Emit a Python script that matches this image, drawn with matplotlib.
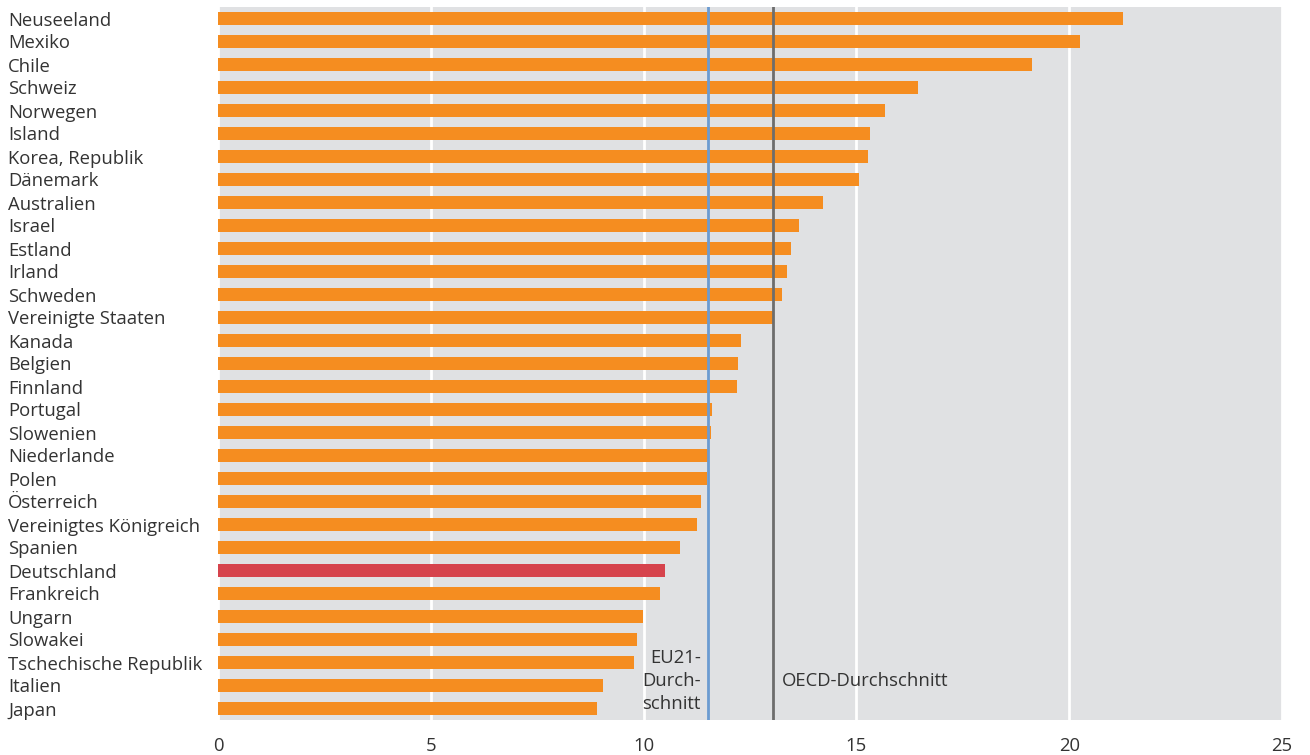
import matplotlib
matplotlib.use('Agg')
import matplotlib.pyplot as plt

plt.rcParams['font.family'] = ['Open Sans', 'DejaVu Sans']

countries = ['Neuseeland', 'Mexiko', 'Chile', 'Schweiz', 'Norwegen', 'Island',
             'Korea, Republik', 'Dänemark', 'Australien', 'Israel', 'Estland',
             'Irland', 'Schweden', 'Vereinigte Staaten', 'Kanada', 'Belgien',
             'Finnland', 'Portugal', 'Slowenien', 'Niederlande', 'Polen',
             'Österreich', 'Vereinigtes Königreich', 'Spanien', 'Deutschland',
             'Frankreich', 'Ungarn', 'Slowakei', 'Tschechische Republik',
             'Italien', 'Japan']
values = [21.26, 20.25, 19.13, 16.45, 15.67, 15.32, 15.27, 15.06, 14.22, 13.65,
          13.46, 13.37, 13.25, 13.06, 12.29, 12.22, 12.19, 11.61, 11.58, 11.54,
          11.49, 11.35, 11.25, 10.86, 10.50, 10.39, 9.99, 9.85, 9.77, 9.05, 8.91]
eu21_avg = 11.51
oecd_avg = 13.04
highlight = 'Deutschland'
xticks = [0, 5, 10, 15, 20, 25]

ORANGE = '#f58d20'
RED = '#d6434c'
TEXT = '#333333'
FS = 13.3

fig = plt.figure(figsize=(13.1, 7.55), dpi=100)
ax = fig.add_axes([218 / 1310, 35 / 755, 1064 / 1310, 713 / 755])
ax.set_facecolor('#e0e1e3')

ypos = list(range(len(countries)))
colors = [RED if c == highlight else ORANGE for c in countries]
ax.barh(ypos, values, height=0.57, color=colors, zorder=3)

ax.set_xlim(0, 25)
ax.set_ylim(len(countries) - 0.5, -0.5)
ax.set_xticks(xticks)
ax.xaxis.grid(True, color='white', linewidth=2, zorder=1)
ax.set_axisbelow(True)

ax.axvline(eu21_avg, color='#6b9bd1', linewidth=2, zorder=4)
ax.axvline(oecd_avg, color='#6d6d6d', linewidth=2, zorder=4)

ax.set_yticks(ypos)
ax.set_yticklabels(countries, ha='left', va='center_baseline', fontsize=FS, color=TEXT)
ax.tick_params(axis='y', length=0, pad=151)
ax.tick_params(axis='x', length=0, pad=12, labelsize=FS, labelcolor=TEXT)

for s in ax.spines.values():
    s.set_visible(False)

ax.text(eu21_avg - 0.17, 28.8, 'EU21-\nDurch-\nschnitt', ha='right', va='center',
        fontsize=FS, color=TEXT, linespacing=1.35, zorder=5)
ax.text(oecd_avg + 0.2, 28.8, 'OECD-Durchschnitt', ha='left', va='center',
        fontsize=FS, color=TEXT, zorder=5)

fig.savefig('out.png', dpi=100)
